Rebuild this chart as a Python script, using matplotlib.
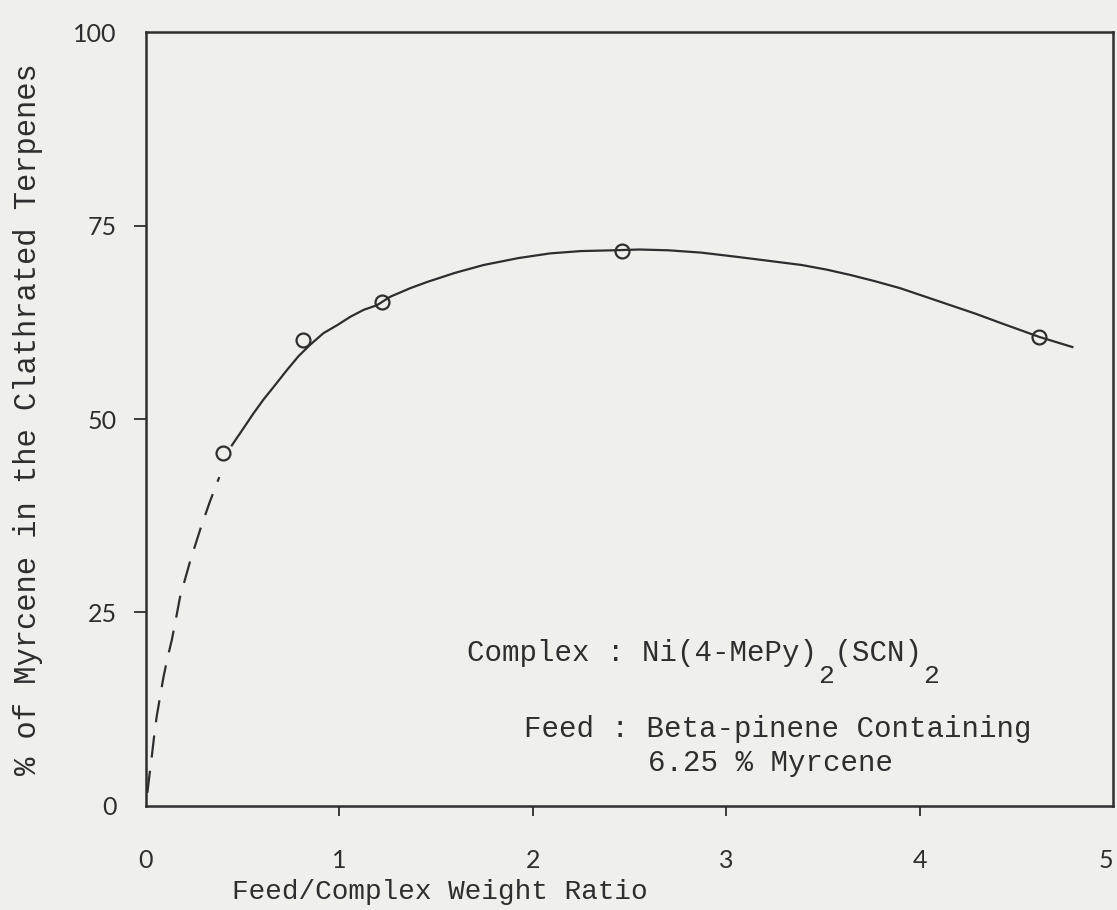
import matplotlib
matplotlib.use("Agg")
import matplotlib.pyplot as plt

# measured points (open circles)
ratio = [0.40, 0.81, 1.22, 2.46, 4.62]
myrcene = [45.6, 60.2, 65.1, 71.7, 60.6]

# hand-drawn smooth curve
curve_x = [0.444, 0.504, 0.555, 0.607, 0.668, 0.728, 0.788, 0.849, 0.918,
           0.987, 1.056, 1.125, 1.194, 1.263, 1.366, 1.453, 1.60, 1.746,
           1.927, 2.09, 2.25, 2.42, 2.55, 2.70, 2.87, 3.04, 3.20, 3.39,
           3.52, 3.644, 3.77, 3.90, 4.03, 4.16, 4.29, 4.42, 4.62, 4.79]
curve_y = [46.6, 48.8, 50.7, 52.5, 54.4, 56.3, 58.1, 59.6, 61.1,
           62.1, 63.2, 64.1, 64.7, 65.8, 66.9, 67.7, 68.9, 69.9,
           70.8, 71.4, 71.7, 71.8, 71.9, 71.8, 71.5, 71.0, 70.5, 69.9,
           69.3, 68.6, 67.8, 66.9, 65.8, 64.7, 63.6, 62.4, 60.6, 59.3]

# dashed extrapolation to the origin
dash_x = [0.007, 0.018, 0.030, 0.042, 0.055, 0.072, 0.090, 0.110, 0.133,
          0.155, 0.176, 0.228, 0.280, 0.330, 0.379]
dash_y = [1.7, 4.0, 6.4, 9.0, 11.5, 14.0, 16.6, 19.0, 21.4,
          24.2, 27.0, 31.6, 35.7, 39.3, 42.5]

xticks = [0, 1, 2, 3, 4, 5]
yticks = [0, 25, 50, 75, 100]

paper = "#efefec"
ink = "#2e2e2e"
mono = "Liberation Mono"
fs = 21

fig = plt.figure(figsize=(11.17, 9.10), dpi=100, facecolor=paper)
ax = fig.add_axes([0.1307, 0.1143, 0.8657, 0.8505])
ax.set_facecolor(paper)

ax.plot(curve_x, curve_y, color=ink, lw=1.6)
ax.plot(dash_x, dash_y, color=ink, lw=1.6, dashes=(10, 6))
ax.plot(ratio, myrcene, "o", ms=10, mfc="none", mec=ink, mew=1.6)

ax.set_xlim(0, 5)
ax.set_ylim(0, 100)
ax.set_xticks(xticks)
ax.set_yticks(yticks)
ax.set_xticklabels([str(t) for t in xticks], family="Lato", fontsize=18, color=ink)
ax.set_yticklabels([str(t) for t in yticks], family="Lato", fontsize=18, color=ink)
ax.get_xticklabels()[-1].set_horizontalalignment("right")
ax.tick_params(axis="x", direction="out", length=7, width=1.3, color=ink, pad=24)
ax.tick_params(axis="y", direction="out", length=9, width=1.3, color=ink, pad=12)
for t in [ax.xaxis.get_major_ticks()[0], ax.xaxis.get_major_ticks()[-1],
          ax.yaxis.get_major_ticks()[0], ax.yaxis.get_major_ticks()[-1]]:
    t.tick1line.set_visible(False)
for s in ax.spines.values():
    s.set_color(ink)
    s.set_linewidth(1.8)

ax.set_xlabel("Feed/Complex Weight Ratio", family=mono, fontsize=20, color=ink)
ax.xaxis.set_label_coords(0.089, -0.094)
ax.xaxis.label.set_horizontalalignment("left")
ax.set_ylabel("% of Myrcene in the Clathrated Terpenes", family=mono, fontsize=22, color=ink)
ax.yaxis.set_label_coords(-0.107, 0.5)

# annotation, with typewriter-style dropped subscripts
cw = 0.6 * fs  # character advance of the monospace font, in points
ax.text(1.66, 19.8, "Complex : Ni(4-MePy) (SCN)", family=mono, fontsize=fs,
        color=ink, va="center")
for idx in [20, 26]:
    ax.annotate("2", xy=(1.66, 19.8), xytext=(idx * cw + (cw - 0.6 * 19) / 2, -17),
                textcoords="offset points", family=mono, fontsize=19,
                color=ink, va="center", ha="left")
ax.text(1.955, 9.9, "Feed : Beta-pinene Containing", family=mono, fontsize=fs,
        color=ink, va="center")
ax.text(2.595, 5.6, "6.25 % Myrcene", family=mono, fontsize=fs,
        color=ink, va="center")

fig.savefig("out.png", dpi=100, facecolor=paper)
